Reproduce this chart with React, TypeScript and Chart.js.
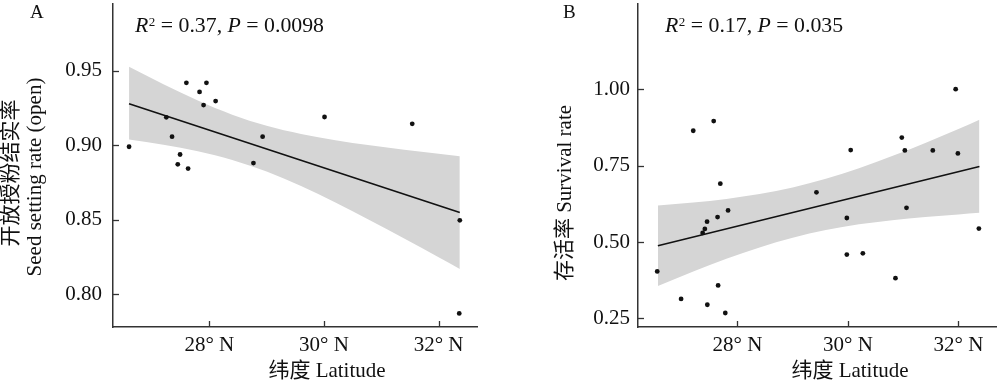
import React, { useEffect, useRef } from "react";
import { Chart, registerables } from "chart.js";

Chart.register(...registerables);

const FONT = "'Liberation Serif', 'Noto Sans CJK SC', serif";

// ---------- Panel A: seed setting rate (open) ----------
const latA = [26.60, 27.25, 27.35, 27.49, 27.45, 27.63, 27.60, 27.83, 27.95, 27.90, 28.11, 28.77, 28.93, 30.01, 31.54, 32.37, 32.36];
const seedA = [0.899, 0.9188, 0.9058, 0.8938, 0.8872, 0.8843, 0.942, 0.9359, 0.942, 0.927, 0.9297, 0.888, 0.9058, 0.919, 0.9144, 0.8495, 0.7869];
const fitLatA = [26.60, 32.37];
const fitA = [0.928, 0.8548];
const bandLatA = [26.60, 27.2, 27.8, 28.4, 29.0, 29.6, 30.2, 30.8, 31.4, 32.0, 32.37];
const bandUpA = [0.9528, 0.9410, 0.9301, 0.9206, 0.9131, 0.9076, 0.9034, 0.9000, 0.8970, 0.8943, 0.8927];
const bandLoA = [0.9038, 0.9003, 0.8959, 0.8901, 0.8823, 0.8726, 0.8615, 0.8496, 0.8373, 0.8247, 0.8168];
const yTicksA = [0.8, 0.85, 0.9, 0.95];

// ---------- Panel B: survival rate ----------
const latB = [26.548, 26.98, 27.20, 27.57, 27.455, 27.65, 27.78, 27.69, 27.83, 27.64, 27.45, 27.41, 27.37, 29.43, 29.98, 29.98, 30.05, 30.27, 30.86, 30.975, 31.03, 31.06, 31.536, 31.95, 31.99, 32.37];
const survB = [0.404, 0.314, 0.864, 0.8955, 0.295, 0.358, 0.268, 0.6908, 0.6035, 0.5818, 0.5667, 0.543, 0.530, 0.6627, 0.5786, 0.459, 0.8008, 0.463, 0.382, 0.8416, 0.7995, 0.612, 0.7995, 1.0, 0.79, 0.544];
const fitLatB = [26.56, 32.38];
const fitB = [0.488, 0.7468];
const bandLatB = [26.56, 27.2, 27.8, 28.4, 29.0, 29.6, 30.2, 30.8, 31.4, 32.0, 32.38];
const bandUpB = [0.6197, 0.6293, 0.6412, 0.6571, 0.6787, 0.7069, 0.7417, 0.7813, 0.8243, 0.8694, 0.8998];
const bandLoB = [0.3563, 0.4035, 0.4450, 0.4825, 0.5143, 0.5393, 0.5579, 0.5717, 0.5821, 0.5904, 0.5958];
const yTicksB = [0.25, 0.5, 0.75, 1.0];

const xTicks = [28, 30, 32];
const xTitle = "纬度 Latitude";

type Run = { t: string; italic?: boolean; sup?: boolean };

type PanelCfg = {
  lat: number[];
  val: number[];
  fitLat: number[];
  fit: number[];
  bandLat: number[];
  bandUp: number[];
  bandLo: number[];
  yTicks: number[];
  yDecimals: number;
  xMin: number;
  xMax: number;
  yMin: number;
  yMax: number;
  axisLeft: number;
  padRight: number;
  yLabelPad: number;
  letter: string;
  letterX: number;
  statX: number;
  statRuns: Run[];
  xTitleCx: number;
  yTitleLines: { text: string; cx: number; cy: number }[];
};

const pts = (xs: number[], ys: number[]) => xs.map((x, i) => ({ x, y: ys[i] }));

const cfgA: PanelCfg = {
  lat: latA, val: seedA, fitLat: fitLatA, fit: fitA,
  bandLat: bandLatA, bandUp: bandUpA, bandLo: bandLoA,
  yTicks: yTicksA, yDecimals: 2,
  xMin: 26.32, xMax: 32.67, yMin: 0.7778, yMax: 0.995,
  axisLeft: 113, padRight: 23, yLabelPad: 11,
  letter: "A", letterX: 30,
  statX: 135,
  statRuns: [
    { t: "R", italic: true }, { t: "2", sup: true }, { t: " = 0.37, " },
    { t: "P", italic: true }, { t: " = 0.0098" },
  ],
  xTitleCx: 327,
  yTitleLines: [
    { text: "开放授粉结实率", cx: 11, cy: 173 },
    { text: "Seed setting rate (open)", cx: 35, cy: 177 },
  ],
};

const cfgB: PanelCfg = {
  lat: latB, val: survB, fitLat: fitLatB, fit: fitB,
  bandLat: bandLatB, bandUp: bandUpB, bandLo: bandLoB,
  yTicks: yTicksB, yDecimals: 2,
  xMin: 26.2, xMax: 32.68, yMin: 0.2222, yMax: 1.2785,
  axisLeft: 138, padRight: 0, yLabelPad: 8,
  letter: "B", letterX: 63,
  statX: 165,
  statRuns: [
    { t: "R", italic: true }, { t: "2", sup: true }, { t: " = 0.17, " },
    { t: "P", italic: true }, { t: " = 0.035" },
  ],
  xTitleCx: 350,
  yTitleLines: [{ text: "存活率 Survival rate", cx: 65, cy: 193 }],
};

function overlayPlugin(cfg: PanelCfg) {
  return {
    id: "overlay",
    afterDraw(chart: any) {
      const ctx: CanvasRenderingContext2D = chart.ctx;
      const xs = chart.scales.x;
      const ys = chart.scales.y;
      const ca = chart.chartArea;
      ctx.save();
      // inward tick marks
      ctx.strokeStyle = "#333";
      ctx.lineWidth = 1.3;
      xTicks.forEach((v) => {
        const p = Math.round(xs.getPixelForValue(v)) + 0.5;
        ctx.beginPath();
        ctx.moveTo(p, ca.bottom);
        ctx.lineTo(p, ca.bottom - 6);
        ctx.stroke();
      });
      cfg.yTicks.forEach((v) => {
        const p = Math.round(ys.getPixelForValue(v)) + 0.5;
        ctx.beginPath();
        ctx.moveTo(ca.left, p);
        ctx.lineTo(ca.left + 6, p);
        ctx.stroke();
      });
      ctx.fillStyle = "#111";
      // panel letter
      ctx.textAlign = "left";
      ctx.textBaseline = "alphabetic";
      ctx.font = `19px ${FONT}`;
      ctx.fillText(cfg.letter, cfg.letterX, 18);
      // statistics text
      let x = cfg.statX;
      const base = 32;
      cfg.statRuns.forEach((r) => {
        if (r.sup) {
          ctx.font = `13px ${FONT}`;
          ctx.fillText(r.t, x + 0.5, base - 6.5);
          x += ctx.measureText(r.t).width + 0.5;
        } else {
          ctx.font = `${r.italic ? "italic " : ""}21.8px ${FONT}`;
          ctx.fillText(r.t, x, base);
          x += ctx.measureText(r.t).width;
        }
      });
      // x title
      ctx.font = `21px ${FONT}`;
      ctx.textAlign = "center";
      ctx.textBaseline = "middle";
      ctx.fillText(xTitle, cfg.xTitleCx, 371);
      // y title(s)
      cfg.yTitleLines.forEach((l) => {
        ctx.save();
        ctx.translate(l.cx, l.cy);
        ctx.rotate(-Math.PI / 2);
        ctx.fillText(l.text, 0, 0);
        ctx.restore();
      });
      ctx.restore();
    },
  };
}

function buildConfig(cfg: PanelCfg): any {
  return {
    type: "scatter",
    data: {
      datasets: [
        {
          type: "scatter",
          data: pts(cfg.lat, cfg.val),
          backgroundColor: "#111",
          borderWidth: 0,
          pointRadius: 2.4,
        },
        {
          type: "line",
          data: pts(cfg.fitLat, cfg.fit),
          borderColor: "#111",
          borderWidth: 1.6,
          pointRadius: 0,
          fill: false,
        },
        {
          type: "line",
          data: pts(cfg.bandLat, cfg.bandUp),
          borderWidth: 0,
          borderColor: "rgba(0,0,0,0)",
          backgroundColor: "#d5d5d5",
          pointRadius: 0,
          cubicInterpolationMode: "monotone",
          fill: "+1",
        },
        {
          type: "line",
          data: pts(cfg.bandLat, cfg.bandLo),
          borderWidth: 0,
          borderColor: "rgba(0,0,0,0)",
          backgroundColor: "#d5d5d5",
          pointRadius: 0,
          cubicInterpolationMode: "monotone",
          fill: false,
        },
      ],
    },
    options: {
      animation: false,
      responsive: false,
      devicePixelRatio: 1,
      layout: { padding: { left: 0, right: cfg.padRight, top: 0, bottom: 0 } },
      plugins: { legend: { display: false }, tooltip: { enabled: false } },
      scales: {
        x: {
          type: "linear",
          min: cfg.xMin,
          max: cfg.xMax,
          grid: { display: false, drawTicks: false },
          border: { display: true, color: "#333", width: 1.5 },
          ticks: {
            color: "#111",
            font: { family: FONT, size: 21 },
            padding: 6,
            maxRotation: 0,
            callback: (v: number) => `${v}° N`,
          },
          afterBuildTicks: (s: any) => {
            s.ticks = xTicks.map((v) => ({ value: v }));
          },
          afterFit: (s: any) => {
            s.height = 55;
            s.paddingLeft = 0;
            s.paddingRight = 0;
            s.paddingTop = 0;
            s.paddingBottom = 0;
          },
        },
        y: {
          type: "linear",
          min: cfg.yMin,
          max: cfg.yMax,
          grid: { display: false, drawTicks: false },
          border: { display: true, color: "#333", width: 1.5 },
          ticks: {
            color: "#111",
            font: { family: FONT, size: 21 },
            padding: cfg.yLabelPad,
            callback: (v: number) => Number(v).toFixed(cfg.yDecimals),
          },
          afterBuildTicks: (s: any) => {
            s.ticks = cfg.yTicks.map((v) => ({ value: v }));
          },
          afterFit: (s: any) => {
            s.width = cfg.axisLeft;
            s.paddingLeft = 0;
            s.paddingRight = 0;
            s.paddingTop = 0;
            s.paddingBottom = 0;
          },
        },
      },
    },
    plugins: [overlayPlugin(cfg)],
  };
}

function Panel({ cfg, left }: { cfg: PanelCfg; left: number }) {
  const ref = useRef<HTMLCanvasElement>(null);
  useEffect(() => {
    const chart = new Chart(ref.current as HTMLCanvasElement, buildConfig(cfg));
    return () => chart.destroy();
  }, [cfg]);
  return (
    <canvas
      ref={ref}
      width={500}
      height={382}
      style={{ position: "absolute", left, top: 0, width: 500, height: 382, display: "block" }}
    />
  );
}

export default function App() {
  return (
    <div style={{ position: "absolute", left: 0, top: 0, width: 1000, height: 382, background: "#fff", overflow: "hidden" }}>
      <Panel cfg={cfgA} left={0} />
      <Panel cfg={cfgB} left={500} />
    </div>
  );
}
